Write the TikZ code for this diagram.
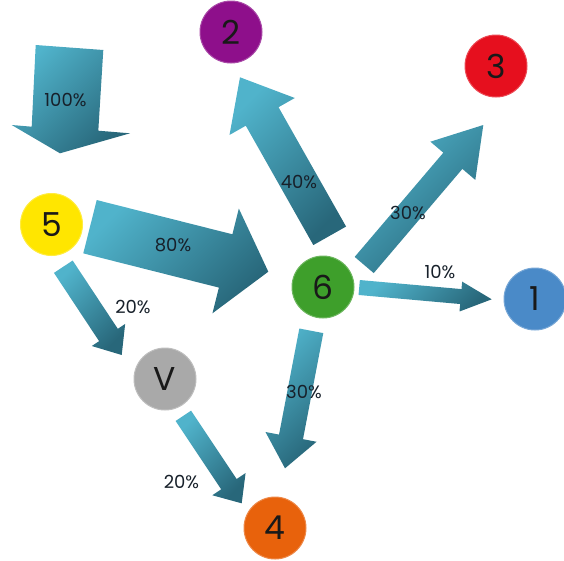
\documentclass[tikz,border=0pt]{standalone}
\usepackage{fontspec}
\setmainfont{Poppins}
\usetikzlibrary{calc}
\definecolor{arrlight}{HTML}{50B3CB}
\definecolor{arrdark}{HTML}{28677A}
\definecolor{cOne}{HTML}{4A8AC8}
\definecolor{cTwo}{HTML}{8E0F8B}
\definecolor{cThree}{HTML}{E60F1E}
\definecolor{cFour}{HTML}{E8620C}
\definecolor{cFive}{HTML}{FFE600}
\definecolor{cSix}{HTML}{3E9F2B}
\definecolor{cVee}{HTML}{A9A9A9}
\definecolor{lbltext}{HTML}{17202A}
\tikzset{
  flowarrow/.style={top color=arrlight, bottom color=arrdark, shading angle=45},
  lbl/.style={text=lbltext, font=\fontsize{18}{18}\selectfont, inner sep=0pt},
  circ/.style={circle, minimum size=62pt, inner sep=0pt, text=black!90,
    font=\fontsize{33}{33}\selectfont, draw=#1!75!white, line width=1pt, fill=#1},
}
\newcommand\flowarr[5]{% tail, tip, half shaft, half head, head length
  \coordinate (#2-b) at ($(#2)!#5pt!(#1)$);
  \shade[flowarrow] ($(#1)!#3pt!90:(#2)$) -- ($(#2-b)!#3pt!90:(#2)$)
    -- ($(#2-b)!#4pt!90:(#2)$) -- (#2) -- ($(#2-b)!#4pt!-90:(#2)$)
    -- ($(#2-b)!#3pt!-90:(#2)$) -- ($(#1)!#3pt!-90:(#2)$) -- cycle;}
\begin{document}
\begin{tikzpicture}[x=1pt, y=-1pt]
\useasboundingbox (0,0) rectangle (564,560);
% 100% inflow arrow (slightly skewed block arrow)
\coordinate (q1) at (35.7,45);  \coordinate (q2) at (103.3,50);
\coordinate (q3) at (98.3,130.7); \coordinate (q4) at (130,133.3);
\coordinate (p100) at (60,153.3); \coordinate (q6) at (11.7,125);
\coordinate (q7) at (31.7,126.7);
\shade[flowarrow] (q1) -- (q2) -- (q3) -- (q4) -- (p100) -- (q6) -- (q7) -- cycle;
% arrow ends
\coordinate (t80)  at (90,226.7);    \coordinate (p80)  at (268.3,271.7);
\coordinate (t20a) at (63.3,266.7);  \coordinate (p20a) at (121.7,355);
\coordinate (t40)  at (329.7,235.8); \coordinate (p40)  at (240,77.3);
\coordinate (t30u) at (364.2,265);   \coordinate (p30u) at (483.3,125);
\coordinate (t10)  at (359.2,287.5); \coordinate (p10)  at (491.7,299.3);
\coordinate (t30d) at (311.3,330.8); \coordinate (p30d) at (285,468.3);
\coordinate (t20b) at (183.3,415.8); \coordinate (p20b) at (241.7,503.3);
% arrows
\flowarr{t80}{p80}{27.5}{54}{44}
\flowarr{t20a}{p20a}{11.2}{20}{24}
\flowarr{t40}{p40}{18.8}{37.5}{45}
\flowarr{t30u}{p30u}{12.5}{29.5}{47}
\flowarr{t10}{p10}{7.5}{15}{31}
\flowarr{t30d}{p30d}{12.2}{26}{32}
\flowarr{t20b}{p20b}{9.3}{20}{23}
% circles
\node[circ=cTwo]   (n2) at (231,32)    {2};
\node[circ=cThree] (n3) at (496,66)    {3};
\node[circ=cFive]  (n5) at (51.5,224.5){5};
\node[circ=cSix]   (n6) at (323,287)   {6};
\node[circ=cOne]   (n1) at (535,299)   {1};
\node[circ=cVee]   (nV) at (165,379)   {V};
\node[circ=cFour]  (n4) at (275,528)   {4};
% labels
\node[lbl] (l100) at (65.5,100) {100\%};
\node[lbl] (l80)  at (173,245)  {80\%};
\node[lbl] (l20a) at (133,307)  {20\%};
\node[lbl] (l40)  at (299,182)  {40\%};
\node[lbl] (l30u) at (408,213)  {30\%};
\node[lbl] (l10)  at (440,272)  {10\%};
\node[lbl] (l30d) at (304,392)  {30\%};
\node[lbl] (l20b) at (181.5,481.5) {20\%};
\end{tikzpicture}
\end{document}
